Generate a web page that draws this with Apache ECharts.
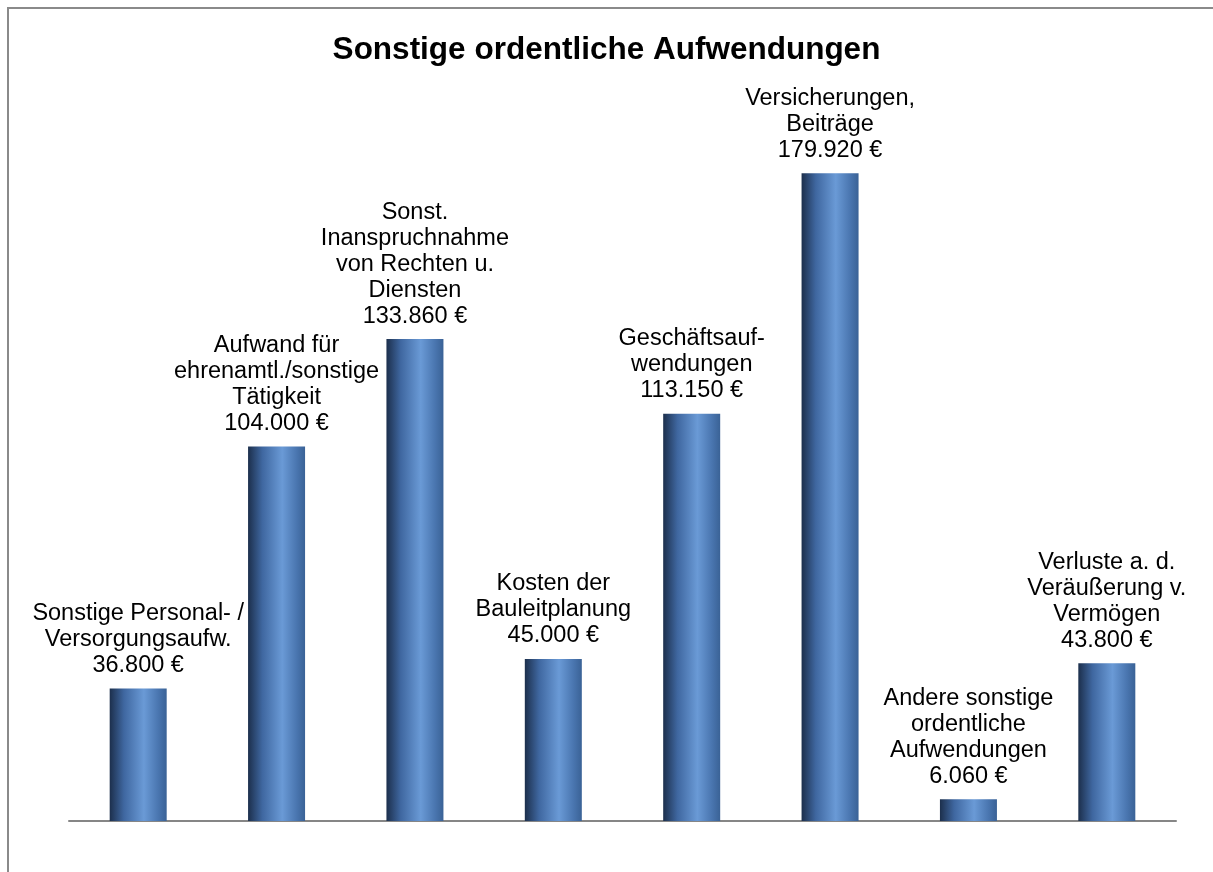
<!DOCTYPE html>
<html>
<head>
<meta charset="utf-8">
<script src="https://cdn.jsdelivr.net/npm/echarts@6/dist/echarts.min.js"></script>
<style>
  html, body { margin: 0; padding: 0; background: #fff; }
  #main { width: 1213px; height: 872px; }
</style>
</head>
<body>
<div id="main"></div>
<script>
const titleText = 'Sonstige ordentliche Aufwendungen';

const categories = [
  'Sonstige Personal- /\nVersorgungsaufw.',
  'Aufwand für\nehrenamtl./sonstige\nTätigkeit',
  'Sonst.\nInanspruchnahme\nvon Rechten u.\nDiensten',
  'Kosten der\nBauleitplanung',
  'Geschäftsauf-\nwendungen',
  'Versicherungen,\nBeiträge',
  'Andere sonstige\nordentliche\nAufwendungen',
  'Verluste a. d.\nVeräußerung v.\nVermögen'
];

const amounts = [36800, 104000, 133860, 45000, 113150, 179920, 6060, 43800];

// 36800 -> "36.800 €"
function euro(v) {
  return String(v).replace(/\B(?=(\d{3})+(?!\d))/g, '.') + ' €';
}

const barColor = new echarts.graphic.LinearGradient(0, 0, 1, 0, [
  { offset: 0, color: '#1c2f4c' },
  { offset: 0.25, color: '#3f67a0' },
  { offset: 0.6, color: '#6a9ad6' },
  { offset: 0.85, color: '#4a76b0' },
  { offset: 1, color: '#3a6296' }
]);

const chart = echarts.init(document.getElementById('main'));
const option = {
  backgroundColor: '#fff',
  animation: false,
  textStyle: { fontFamily: "'Liberation Sans', Arial, sans-serif" },
  title: {
    text: titleText,
    left: 'center',
    top: 29,
    textStyle: {
      fontSize: 31.5,
      fontWeight: 'bold',
      color: '#000',
      fontFamily: "'Liberation Sans', Arial, sans-serif"
    }
  },
  graphic: [{
    type: 'rect',
    shape: { x: 8, y: 8, width: 1240, height: 900 },
    style: { fill: 'none', stroke: '#8a8a8a', lineWidth: 2 },
    silent: true
  }],
  grid: { left: 69, right: 37, top: 101, bottom: 51 },
  xAxis: {
    type: 'category',
    data: categories,
    axisLine: { show: true, lineStyle: { color: '#868686', width: 2 } },
    axisTick: { show: false },
    axisLabel: { show: false }
  },
  yAxis: {
    type: 'value',
    min: 0,
    max: 200000,
    show: false,
    splitLine: { show: false }
  },
  series: [{
    type: 'bar',
    data: amounts,
    barWidth: 57,
    itemStyle: { color: barColor },
    label: {
      show: true,
      position: 'top',
      distance: 10,
      color: '#000',
      fontSize: 23.5,
      lineHeight: 26,
      align: 'center',
      fontFamily: "'Liberation Sans', Arial, sans-serif",
      formatter: p => p.name + '\n' + euro(p.value)
    }
  }]
};
chart.setOption(option);
</script>
</body>
</html>
